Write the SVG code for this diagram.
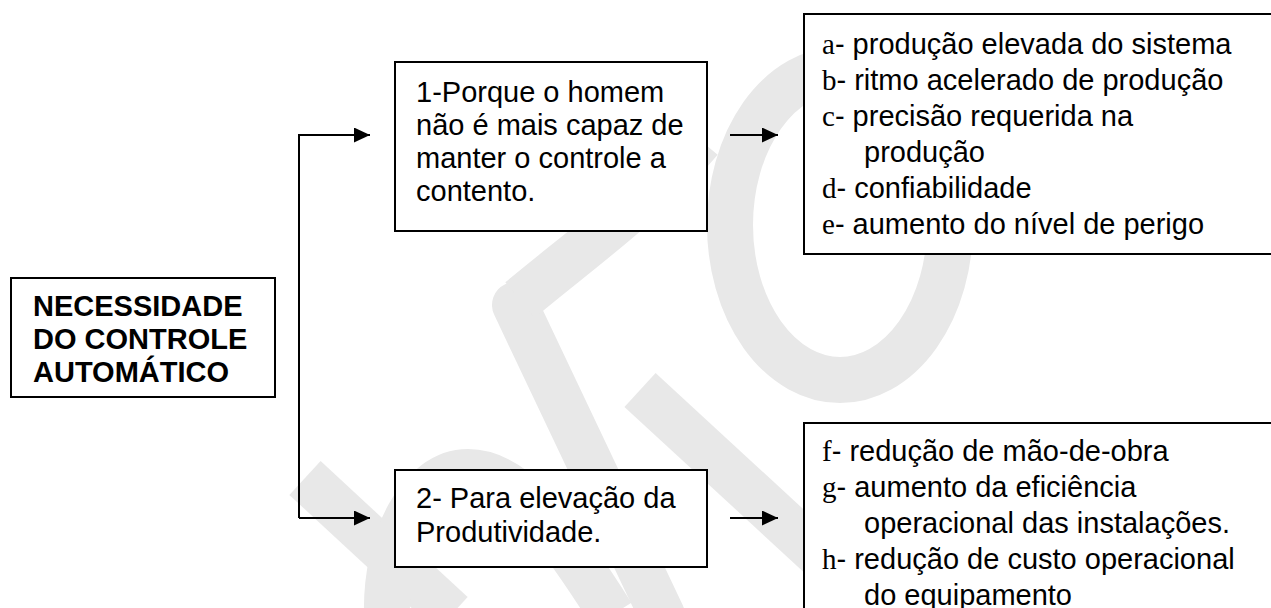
<svg xmlns="http://www.w3.org/2000/svg" width="1271" height="608" viewBox="0 0 1271 608">
<style>
.box{fill:#fff;stroke:#000;stroke-width:2}
.t{font-family:"Liberation Sans",Arial,sans-serif;font-size:29px;fill:#000}
.b{font-weight:bold}
.s{font-family:"Liberation Serif","Times New Roman",serif}
.c{fill:none;stroke:#000;stroke-width:2}
.wm{fill:none;stroke:#e8e8e8;stroke-width:46}
</style>
<defs>
<marker id="ah" markerUnits="userSpaceOnUse" markerWidth="16" markerHeight="15" refX="16" refY="7.5" orient="auto">
<path d="M0,0 L16,7.5 L0,15 Z" fill="#000"/>
</marker>
</defs>
<rect width="1271" height="608" fill="#fff"/>
<g id="watermark">
<path class="wm" d="M305,478 L452,614"/>
<path class="wm" d="M387,615 C385,540 420,472 468,472 C515,472 555,525 612,615"/>
<path class="wm" stroke-linecap="round" d="M662,615 L515,305"/>
<path class="wm" d="M520,300 C580,250 650,200 700,140"/>
<ellipse class="wm" cx="840" cy="225" rx="110" ry="155"/>
<path class="wm" d="M640,390 L830,565"/>
</g>
<g id="connectors">
<path class="c" d="M299,518 V135 H370" marker-end="url(#ah)"/>
<path class="c" d="M299,518 H370" marker-end="url(#ah)"/>
<path class="c" d="M730,135 H778" marker-end="url(#ah)"/>
<path class="c" d="M730,518 H778" marker-end="url(#ah)"/>
</g>
<g id="necessidade">
<rect class="box" x="11" y="278" width="264" height="119"/>
<text class="t b" x="33" y="316">NECESSIDADE</text>
<text class="t b" x="33" y="349">DO CONTROLE</text>
<text class="t b" x="33" y="382">AUTOMÁTICO</text>
</g>
<g id="porque">
<rect class="box" x="395" y="62" width="312" height="169"/>
<text class="t" x="416" y="101.5">1-Porque o homem</text>
<text class="t" x="416" y="134.5">não é mais capaz de</text>
<text class="t" x="416" y="167.5">manter o controle a</text>
<text class="t" x="416" y="201">contento.</text>
</g>
<g id="produtividade">
<rect class="box" x="395" y="470" width="312" height="97"/>
<text class="t" x="416" y="508">2- Para elevação da</text>
<text class="t" x="416" y="542">Produtividade.</text>
</g>
<g id="lista1">
<rect class="box" x="804" y="14" width="480" height="240"/>
<text class="t" x="822" y="54"><tspan class="s">a</tspan>- produção elevada do sistema</text>
<text class="t" x="822" y="90"><tspan class="s">b</tspan>- ritmo acelerado de produção</text>
<text class="t" x="822" y="126"><tspan class="s">c</tspan>- precisão requerida na</text>
<text class="t" x="864" y="162">produção</text>
<text class="t" x="822" y="198"><tspan class="s">d</tspan>- confiabilidade</text>
<text class="t" x="822" y="234"><tspan class="s">e</tspan>- aumento do nível de perigo</text>
</g>
<g id="lista2">
<rect class="box" x="804" y="423" width="480" height="200"/>
<text class="t" x="822" y="461"><tspan class="s">f</tspan>- redução de mão-de-obra</text>
<text class="t" x="822" y="497"><tspan class="s">g</tspan>- aumento da eficiência</text>
<text class="t" x="864" y="533">operacional das instalações.</text>
<text class="t" x="822" y="569"><tspan class="s">h</tspan>- redução de custo operacional</text>
<text class="t" x="864" y="605">do equipamento</text>
</g>
</svg>
